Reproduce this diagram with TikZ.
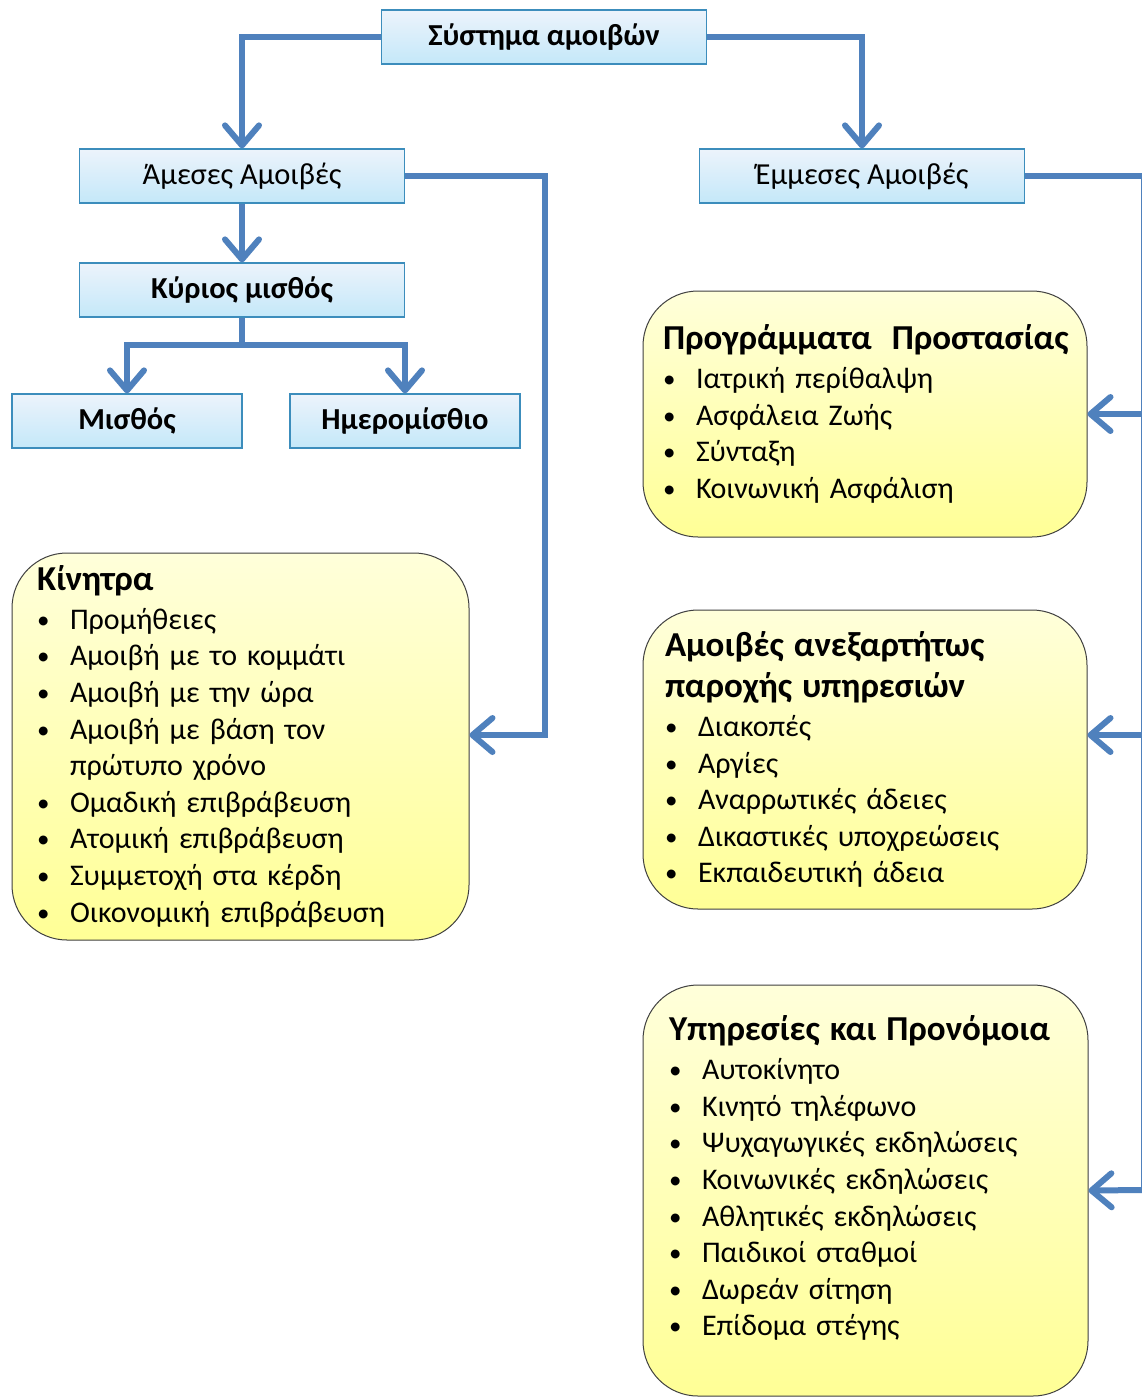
\documentclass[tikz,border=0pt]{standalone}
\usepackage{fontspec}
\setmainfont{Carlito}
\usetikzlibrary{arrows.meta, positioning}

\definecolor{linkblue}{RGB}{79,129,189}
\definecolor{boxedge}{RGB}{60,141,188}
\definecolor{boxtop}{RGB}{236,243,251}
\definecolor{boxbottom}{RGB}{196,232,249}
\definecolor{notetop}{RGB}{255,255,218}
\definecolor{notebottom}{RGB}{255,255,150}

\newcommand{\bul}[1]{\makebox[33pt][l]{\raisebox{1pt}{\fontsize{25}{25}\selectfont\textbullet}}#1}
\newcommand{\notehead}[1]{{\bfseries\fontsize{35}{36.6}\selectfont #1}}

\begin{document}
\begin{tikzpicture}[x=1pt, y=-1pt,
  headbox/.style = {draw=boxedge, line width=1.2pt,
                    top color=boxtop, bottom color=boxbottom,
                    minimum width=325pt, minimum height=54pt,
                    inner sep=0pt, font=\fontsize{30.5}{34}\selectfont},
  boldhead/.style = {headbox, font=\bfseries\fontsize{30.5}{34}\selectfont},
  notebox/.style = {draw=black!75, line width=1pt, rounded corners=55pt,
                    top color=notetop, bottom color=notebottom,
                    align=left, inner ysep=0pt,
                    font=\fontsize{30}{36.6}\selectfont},
  link/.style    = {draw=linkblue, line width=6pt,
                    -{Straight Barb[length=20pt, width=34pt, line cap=round, line join=round]}}
]
\useasboundingbox (0,0) rectangle (1142,1398);
\fill[white] (0,0) rectangle (1142,1398);

% top of the tree
\node[boldhead] (sys) at (544,37) {Σύστημα αμοιβών};
\node[headbox] (amesa) at (242,176) {Άμεσες Αμοιβές};
\node[headbox] (emmesa) at (862,176) {Έμμεσες Αμοιβές};
\node[boldhead] (kyrios) at (242,290) {Κύριος μισθός};
\node[boldhead, minimum width=230pt] (misthos) at (127,421) {Μισθός};
\node[boldhead, minimum width=230pt] (imero) at (405,421) {Ημερομίσθιο};

% yellow lists
\node[notebox, text width=407pt, inner xsep=25pt, minimum height=387pt] (kinitra) at (240.5,746.5) {%
  \notehead{Κίνητρα}\\[2pt]
  \bul{Προμήθειες}\\
  \bul{Αμοιβή με το κομμάτι}\\
  \bul{Αμοιβή με την ώρα}\\
  \bul{Αμοιβή με βάση τον}\\
  \makebox[33pt]{}πρώτυπο χρόνο\\
  \bul{Ομαδική επιβράβευση}\\
  \bul{Ατομική επιβράβευση}\\
  \bul{Συμμετοχή στα κέρδη}\\
  \bul{Οικονομική επιβράβευση}};

\node[notebox, text width=404pt, inner xsep=20pt, minimum height=246pt] (prog) at (865,414) {%
  \notehead{\mbox{Προγράμματα\ \ Προστασίας}}\\[2pt]
  \bul{Ιατρική περίθαλψη}\\
  \bul{Ασφάλεια Ζωής}\\
  \bul{Σύνταξη}\\
  \bul{Κοινωνική Ασφάλιση}};

\node[notebox, text width=400pt, inner xsep=22pt, minimum height=299pt] (anex) at (865,759.5) {%
  \notehead{Αμοιβές ανεξαρτήτως}\\[5pt]
  \notehead{παροχής υπηρεσιών}\\[2pt]
  \bul{Διακοπές}\\
  \bul{Αργίες}\\
  \bul{Αναρρωτικές άδειες}\\
  \bul{Δικαστικές υποχρεώσεις}\\
  \bul{Εκπαιδευτική άδεια}};

\node[notebox, text width=393pt, inner xsep=26pt, minimum height=411pt] (ypir) at (865.5,1190.5) {%
  \notehead{Υπηρεσίες και Προνόμοια}\\[3pt]
  \bul{Αυτοκίνητο}\\
  \bul{Κινητό τηλέφωνο}\\
  \bul{Ψυχαγωγικές εκδηλώσεις}\\
  \bul{Κοινωνικές εκδηλώσεις}\\
  \bul{Αθλητικές εκδηλώσεις}\\
  \bul{Παιδικοί σταθμοί}\\
  \bul{Δωρεάν σίτηση}\\
  \bul{Επίδομα στέγης\rule[-30pt]{0pt}{0pt}}};

% bends
\coordinate (split) at (242,345);
\coordinate (kbend) at (545,735);
\coordinate (rail1) at (1144,414);
\coordinate (rail2) at (1144,735);
\coordinate (rail3) at (1144,1190);

\draw[link] (sys.west) -| (amesa.north);
\draw[link] (sys.east) -| (emmesa.north);
\draw[link] (amesa.south) -- (kyrios.north);
\draw[link, -] (kyrios.south) -- (split);
\draw[link] (split) -| (misthos.north);
\draw[link] (split) -| (imero.north);
\draw[link] (amesa.east) -| (kbend) -- (kinitra.east |- kbend);

\draw[link, -] (emmesa.east) -| (rail3);
\draw[link] (rail1) -- (prog.east);
\draw[link] (rail2) -- (anex.east |- rail2);
\draw[link] (rail3) -- (ypir.east);
\end{tikzpicture}
\end{document}
